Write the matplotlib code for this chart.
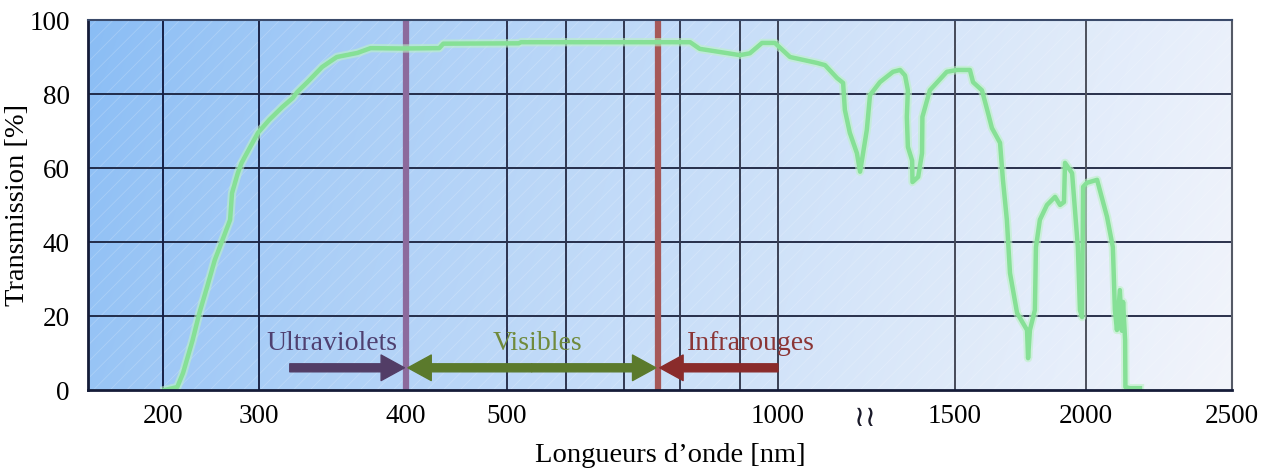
import numpy as np
import matplotlib
matplotlib.use("Agg")
import matplotlib.pyplot as plt
from matplotlib.patches import Rectangle, FancyArrowPatch
from matplotlib.colors import to_rgb

# ---------------- data ----------------
wavelength_nm = [202, 215, 221, 231, 238, 246, 254, 262, 270, 272, 278, 282, 291, 299,
                 307, 316, 323, 326, 333, 343, 353, 367, 376, 398, 433, 437, 520, 524,
                 817, 833, 900, 926, 958, 992, 1034, 1110, 1133, 1167, 1184, 1189, 1203,
                 1223, 1232, 1251, 1260, 1288, 1325, 1345, 1359, 1367, 1364, 1367, 1379,
                 1380, 1396, 1407, 1408, 1429, 1477, 1508, 1557, 1569, 1603, 1626, 1641,
                 1672, 1683, 1698, 1710, 1737, 1775, 1779, 1786, 1805, 1809, 1824, 1851,
                 1882, 1901, 1916, 1920, 1947, 1958, 1969, 1977, 1985, 1989, 2003, 2038,
                 2072, 2092, 2099, 2106, 2116, 2123, 2127, 2134, 2135, 2150, 2185]
transmission_pct = [0.0, 0.8, 4.6, 13.5, 20.8, 27.8, 35.1, 40.5, 46.0, 53.2, 58.6, 61.4, 65.7, 69.5,
                    73.0, 76.5, 78.9, 80.5, 83.2, 87.3, 90.0, 91.1, 92.4, 92.3, 92.4, 93.6, 93.7, 94.0,
                    94.0, 92.2, 90.5, 91.0, 93.8, 93.8, 90.0, 88.4, 87.8, 84.3, 83.0, 75.7, 69.5,
                    64.0, 59.0, 70.3, 79.7, 83.2, 86.0, 86.5, 85.0, 81.0, 73.8, 65.7, 62.0,
                    56.2, 57.6, 64.0, 73.8, 81.0, 86.0, 86.5, 86.5, 83.2, 81.0, 74.9, 70.8,
                    66.8, 56.8, 46.0, 31.6, 20.8, 16.2, 8.6, 16.2, 21.6, 38.6, 46.0, 50.0,
                    52.2, 50.0, 50.8, 61.4, 58.6, 48.6, 38.6, 21.6, 19.7, 54.9, 56.0, 56.8,
                    46.8, 38.6, 21.6, 16.2, 27.0, 16.0, 23.8, 13.5, 0.8, 0.5, 0.5]

x_tick_values = [200, 300, 400, 500, 1000, 1500, 2000, 2500]
x_tick_labels = ["200", "300", "400", "500", "1000", "1500", "2000", "2500"]
y_tick_values = [0, 20, 40, 60, 80, 100]
y_tick_labels = ["0", "20", "40", "60", "80", "100"]
grid_nm = [200, 300, 500, 600, 700, 800, 900, 1000, 1500, 2000]
break_nm = 1246
break_label = "\u2240\u2240"
uv_limit_nm = 400
ir_limit_nm = 760
uv_arrow_start_nm = 321
ir_arrow_start_nm = 1000
band_labels = ["Ultraviolets", "Visibles", "Infrarouges"]
band_label_nm = [350, 552, 929]
x_label = "Longueurs d\u2019onde [nm]"
y_label = "Transmission [%]"

# piecewise (hand-drawn) wavelength axis
scale_nm = np.array([100, 200, 300, 400, 500, 600, 700, 800, 900, 1000, 1500, 2000, 2500], float)
scale_pos = np.array([67, 163, 259, 406, 507, 566, 624, 680, 740, 778, 955, 1086, 1232], float)


def _pw(x, xp, fp):
    x = np.asarray(x, float)
    y = np.interp(x, xp, fp)
    lo = x < xp[0]
    hi = x > xp[-1]
    s0 = (fp[1] - fp[0]) / (xp[1] - xp[0])
    s1 = (fp[-1] - fp[-2]) / (xp[-1] - xp[-2])
    y = np.where(lo, fp[0] + (x - xp[0]) * s0, y)
    y = np.where(hi, fp[-1] + (x - xp[-1]) * s1, y)
    return y


def fwd(x):
    return _pw(x, scale_nm, scale_pos)


def inv(p):
    return _pw(p, scale_pos, scale_nm)


serif = ["Liberation Serif", "DejaVu Serif", "DejaVu Sans"]
plt.rcParams["font.family"] = serif

W, H = 1265, 469
fig = plt.figure(figsize=(W / 100, H / 100), dpi=100)
ax = fig.add_axes([88 / W, 1 - 390 / H, (1232 - 88) / W, 370 / H])

# background gradient
nx, ny = 400, 150
gx, gy = np.meshgrid(np.linspace(0, 1, nx), np.linspace(1, 0, ny))
s = np.clip(0.85 * gx + 0.09 * (1 - gy) + 0.05, 0, 1) ** 0.75
c0 = np.array([125, 182, 244]) / 255
c1 = np.array([243, 245, 251]) / 255
img = c0[None, None, :] * (1 - s[..., None]) + c1[None, None, :] * s[..., None]
ax.imshow(img, extent=[0, 1, 0, 1], transform=ax.transAxes, aspect="auto", zorder=0,
          interpolation="bilinear")
plt.rcParams["hatch.linewidth"] = 0.6
ax.add_patch(Rectangle((0, 0), 1, 1, transform=ax.transAxes, facecolor="none",
                       edgecolor=(1, 1, 1, 0.2), hatch="//", lw=0, zorder=0.5))

ax.set_xscale("function", functions=(fwd, inv))
ax.set_xlim(122, 2500)
ax.set_ylim(0, 100)

# grid
for y in [20, 40, 60, 80]:
    ax.axhline(y, color="#151c38", lw=1.4, zorder=1, alpha=0.9)
cl, cr = np.array(to_rgb("#121c44")), np.array(to_rgb("#55585f"))
for g in grid_nm:
    t = (fwd(g) - 88) / (1232 - 88)
    col = cl * (1 - t) + cr * t
    ax.axvline(g, color=col, lw=1.4, zorder=1)

# band limits
ax.axvline(uv_limit_nm, color="#8c6a9c", lw=4.5, zorder=2)
ax.axvline(ir_limit_nm, color="#a65858", lw=4.5, zorder=2)

# curve
ax.plot(wavelength_nm, transmission_pct, color="#bdf2c6", lw=6, alpha=0.6, zorder=3,
        solid_joinstyle="round")
ax.plot(wavelength_nm, transmission_pct, color="#86e096", lw=3.2, zorder=4,
        solid_joinstyle="round")

# arrows
ay = 6
style = "simple,tail_width=0.36,head_width=1.15,head_length=1.05"
def arrow(x0, x1, col):
    ax.add_patch(FancyArrowPatch((x0, ay), (x1, ay), arrowstyle=style, mutation_scale=16,
                                 color=col, shrinkA=0, shrinkB=0, zorder=5))

arrow(uv_arrow_start_nm, uv_limit_nm - 1, "#523d66")
vis_mid = inv((fwd(uv_limit_nm) + fwd(ir_limit_nm)) / 2)
arrow(vis_mid, uv_limit_nm + 2, "#5b7a2c")
arrow(vis_mid, ir_limit_nm - 3, "#5b7a2c")
arrow(ir_arrow_start_nm, ir_limit_nm + 4, "#8a2b2b")

label_cols = ["#4f4070", "#708a3c", "#8b3535"]
for txt, xn, c in zip(band_labels, band_label_nm, label_cols):
    ax.text(xn, 12.6, txt, color=c, fontsize=20, ha="center", va="center", zorder=6)

# ticks
ax.set_xticks(x_tick_values)
ax.set_xticklabels(x_tick_labels)
ax.set_yticks(y_tick_values)
ax.set_yticklabels(y_tick_labels)
ax.minorticks_off()
ax.tick_params(axis="both", length=0, labelsize=19.5)
ax.tick_params(axis="x", pad=10)
ax.tick_params(axis="y", pad=13)
ax.text(break_nm, (390 - 418) / 370, break_label, transform=ax.get_xaxis_transform(),
        ha="center", va="center", fontsize=21, family=["DejaVu Sans"], color="#1a1a2a")

ax.set_xlabel(x_label, fontsize=20.5)
ax.set_ylabel(y_label, fontsize=20.5)
ax.xaxis.set_label_coords((670 - 88) / (1232 - 88), (390 - 443) / 370)
ax.yaxis.set_label_coords((30 - 88) / (1232 - 88), 0.5)

for sp in ["left", "bottom"]:
    ax.spines[sp].set_color("#151c38")
    ax.spines[sp].set_linewidth(2)
ax.spines["top"].set_color("#3a4a6a")
ax.spines["top"].set_linewidth(1.5)
ax.spines["right"].set_color("#555a66")
ax.spines["right"].set_linewidth(1.5)
for sp in ax.spines.values():
    sp.set_zorder(7)

fig.savefig("out.png", dpi=100)
